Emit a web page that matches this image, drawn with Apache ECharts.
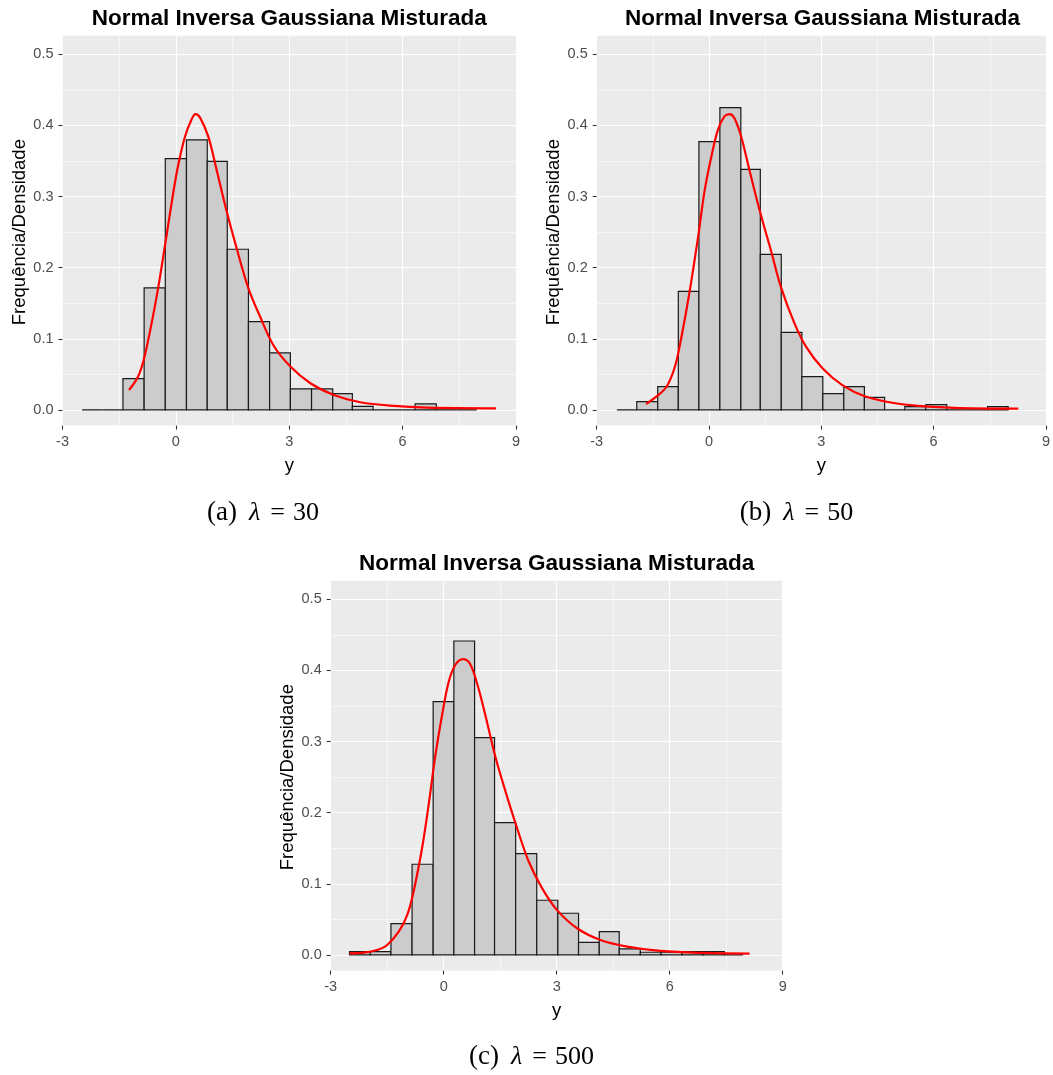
<!DOCTYPE html>
<html><head><meta charset="utf-8">
<script src="https://cdn.jsdelivr.net/npm/echarts@6/dist/echarts.min.js"></script>
<style>html,body{margin:0;padding:0;background:#fff}#c{width:1053px;height:1075px}</style>
</head><body><div id="c"></div>
<script>
// ---------- data ----------
const plotTitle = 'Normal Inversa Gaussiana Misturada';
const yAxisTitle = 'Frequência/Densidade';
const xAxisTitle = 'y';
const captionTags = ['(a)', '(b)', '(c)'];
const lambdaValues = ['30', '50', '500'];
const xTicks = [-3, 0, 3, 6, 9];
const yTicks = [0.0, 0.1, 0.2, 0.3, 0.4, 0.5];

// histogram bin edges and heights (density)
const edgesA = [-2.48, -1.94, -1.40, -0.84, -0.28, 0.28, 0.83, 1.36, 1.92, 2.48, 3.03, 3.59, 4.15, 4.67, 5.22, 5.77, 6.33, 6.89, 7.43, 7.96];
const histA  = [0, 0, 0.044, 0.1715, 0.3533, 0.3796, 0.3496, 0.2259, 0.1242, 0.0801, 0.0295, 0.0295, 0.023, 0.005, 0, 0, 0.0085, 0, 0];

const edgesB = [-2.46, -1.93, -1.37, -0.82, -0.27, 0.29, 0.85, 1.37, 1.93, 2.48, 3.04, 3.60, 4.15, 4.69, 5.23, 5.79, 6.35, 6.90, 7.44, 7.99];
const histB  = [0, 0.0117, 0.0328, 0.1668, 0.3772, 0.425, 0.3383, 0.2188, 0.1092, 0.0469, 0.023, 0.0328, 0.0178, 0, 0.0047, 0.0075, 0, 0, 0.0047];

const edgesC = [-2.50, -1.95, -1.40, -0.84, -0.28, 0.27, 0.82, 1.35, 1.91, 2.47, 3.03, 3.58, 4.13, 4.66, 5.22, 5.77, 6.33, 6.89, 7.45, 7.95];
const histC  = [0.0047, 0.0047, 0.044, 0.1275, 0.356, 0.4414, 0.3055, 0.186, 0.1425, 0.0769, 0.0586, 0.0178, 0.0328, 0.0086, 0.0038, 0.0038, 0.0047, 0.0047, 0];

// fitted density curves
const curveXA = [-1.24, -1.0, -0.82, -0.51, -0.28, -0.115, 0.035, 0.24, 0.42, 0.52, 0.64, 0.86, 1.08, 1.345, 1.61, 1.92, 2.23, 2.58, 3.03, 3.56, 4.18, 4.88, 5.77, 6.65, 8.47];
const curveYA = [0.028, 0.047, 0.077, 0.159, 0.234, 0.29, 0.337, 0.384, 0.409, 0.416, 0.411, 0.384, 0.337, 0.279, 0.227, 0.171, 0.131, 0.091, 0.061, 0.0375, 0.021, 0.0108, 0.0056, 0.0033, 0.0023];

const curveXB = [-1.68, -1.40, -1.13, -0.91, -0.735, -0.51, -0.29, -0.115, 0.062, 0.24, 0.416, 0.55, 0.68, 0.86, 1.08, 1.35, 1.66, 1.92, 2.28, 2.59, 3.03, 3.56, 4.18, 4.98, 5.86, 7.01, 8.26];
const curveYB = [0.0084, 0.019, 0.033, 0.061, 0.103, 0.169, 0.244, 0.309, 0.356, 0.394, 0.413, 0.416, 0.410, 0.384, 0.337, 0.281, 0.223, 0.173, 0.122, 0.089, 0.0586, 0.035, 0.019, 0.0094, 0.0047, 0.0023, 0.0019];

const curveXC = [-2.50, -2.12, -1.77, -1.50, -1.19, -0.97, -0.80, -0.575, -0.40, -0.22, -0.044, 0.133, 0.31, 0.513, 0.69, 0.885, 1.106, 1.37, 1.64, 1.95, 2.26, 2.61, 3.01, 3.54, 4.16, 4.87, 5.75, 6.90, 8.12];
const curveYC = [0.0023, 0.0033, 0.007, 0.014, 0.033, 0.056, 0.089, 0.15, 0.211, 0.281, 0.337, 0.384, 0.408, 0.416, 0.41, 0.382, 0.337, 0.279, 0.23, 0.178, 0.131, 0.094, 0.063, 0.0375, 0.021, 0.0117, 0.0056, 0.0028, 0.0019];

// ---------- layout ----------
const FONT = '"Liberation Sans", Arial, sans-serif';
const SERIF = '"Liberation Serif", "DejaVu Serif", serif';
const yLo = -0.022, yHi = 0.526;
const panels = [
  {left: 62.5, width: 453.5, top: 35.8, height: 389.8, titleTop: 7, capX: 263, capY: 513, edges: edgesA, hist: histA, cx: curveXA, cy: curveYA},
  {left: 596.7, width: 451.6, top: 35.8, height: 389.8, titleTop: 7, capX: 796.5, capY: 513, edges: edgesB, hist: histB, cx: curveXB, cy: curveYB},
  {left: 330.7, width: 452, top: 580.8, height: 389.8, titleTop: 552, capX: 531.5, capY: 1057, edges: edgesC, hist: histC, cx: curveXC, cy: curveYC}
];

const grid = [], xAxis = [], yAxis = [], series = [], title = [];
const xMin = xTicks[0], xMax = xTicks[xTicks.length - 1], xInt = xTicks[1] - xTicks[0];
const yMin = yTicks[0], yMax = yTicks[yTicks.length - 1], yInt = +(yTicks[1] - yTicks[0]).toFixed(3);

panels.forEach((p, i) => {
  const k = p.height / (yHi - yLo);
  // main grid: background, vertical grid lines, x axis, data
  grid.push({left: p.left, top: p.top, width: p.width, height: p.height, show: true,
    backgroundColor: '#EBEBEB', borderWidth: 0, containLabel: false});
  // aux grid: exactly the [0, 0.5] band for horizontal grid lines + y labels
  grid.push({left: p.left, top: p.top + (yHi - yMax) * k, width: p.width, height: (yMax - yMin) * k,
    show: false, containLabel: false});
  xAxis.push({gridIndex: 2 * i, type: 'value', min: xMin, max: xMax, interval: xInt, position: 'bottom',
    axisLine: {show: false, onZero: false},
    axisTick: {show: true, length: 4, lineStyle: {color: '#333333', width: 1.1}},
    axisLabel: {color: '#4D4D4D', fontSize: 14.5, fontFamily: FONT, margin: 9},
    splitLine: {show: true, lineStyle: {color: '#FFFFFF', width: 1.1}},
    minorTick: {show: false, splitNumber: 2},
    minorSplitLine: {show: true, lineStyle: {color: '#FFFFFF', width: 0.55}},
    name: xAxisTitle, nameLocation: 'middle', nameGap: 31,
    nameTextStyle: {color: '#000', fontSize: 18.5, fontFamily: FONT}});
  xAxis.push({gridIndex: 2 * i + 1, type: 'value', min: xMin, max: xMax, show: false,
    axisLine: {show: false, onZero: false}, axisTick: {show: false}, axisLabel: {show: false},
    splitLine: {show: false}});
  yAxis.push({gridIndex: 2 * i, type: 'value', min: yLo, max: yHi, show: false,
    axisLine: {show: false, onZero: false}, axisTick: {show: false}, axisLabel: {show: false},
    splitLine: {show: false}});
  yAxis.push({gridIndex: 2 * i + 1, type: 'value', min: yMin, max: yMax, interval: yInt, position: 'left',
    axisLine: {show: false, onZero: false},
    axisTick: {show: true, length: 4, lineStyle: {color: '#333333', width: 1.1}},
    axisLabel: {color: '#4D4D4D', fontSize: 14.5, fontFamily: FONT, margin: 9,
      formatter: v => v.toFixed(1)},
    splitLine: {show: true, lineStyle: {color: '#FFFFFF', width: 1.1}},
    minorTick: {show: false, splitNumber: 2},
    minorSplitLine: {show: true, lineStyle: {color: '#FFFFFF', width: 0.55}},
    name: yAxisTitle, nameLocation: 'middle', nameGap: 33,
    nameTextStyle: {color: '#000', fontSize: 18.5, fontFamily: FONT}});

  const histData = p.hist.map((h, j) => [p.edges[j], p.edges[j + 1], h]);
  series.push({type: 'custom', xAxisIndex: 2 * i, yAxisIndex: 2 * i, z: 2,
    dimensions: ['x0', 'x1', 'h'], encode: {x: [0, 1], y: 2},
    data: histData, clip: false,
    renderItem: (params, api) => {
      const a = api.coord([api.value(0), api.value(2)]);
      const b = api.coord([api.value(1), 0]);
      return {type: 'rect', shape: {x: a[0], y: a[1], width: b[0] - a[0], height: b[1] - a[1]},
        style: {fill: '#CCCCCC', stroke: '#1A1A1A', lineWidth: 1.2}};
    }});
  series.push({type: 'line', xAxisIndex: 2 * i, yAxisIndex: 2 * i, z: 3,
    data: p.cx.map((x, j) => [x, p.cy[j]]), showSymbol: false, symbol: 'none',
    smooth: 0.35, lineStyle: {color: '#FF0000', width: 2.2}, clip: false});

  title.push({text: plotTitle, left: p.left + p.width / 2, textAlign: 'center', top: p.titleTop, padding: 0,
    textStyle: {fontFamily: FONT, fontSize: 22.5, fontWeight: 'bold', color: '#000'}});
  title.push({text: '{t|' + captionTags[i] + '}{l|λ}{e|=}{n|' + lambdaValues[i] + '}', left: p.capX, textAlign: 'center',
    top: p.capY - 14, padding: 0,
    textStyle: {fontFamily: SERIF, fontSize: 26, fontWeight: 'normal', color: '#000', lineHeight: 28,
      rich: {
        t: {fontFamily: SERIF, fontSize: 27, color: '#000', lineHeight: 28, padding: [0, 12, 0, 0]},
        l: {fontFamily: SERIF, fontStyle: 'italic', fontSize: 26, color: '#000', lineHeight: 28, padding: [0, 10, 0, 0]},
        e: {fontFamily: SERIF, fontSize: 26, color: '#000', lineHeight: 28, padding: [0, 8, 0, 0]},
        n: {fontFamily: SERIF, fontSize: 26, color: '#000', lineHeight: 28}
      }}});
});

const chart = echarts.init(document.getElementById('c'), null, {renderer: 'canvas'});
chart.setOption({backgroundColor: '#FFFFFF', animation: false, title, grid, xAxis, yAxis, series});
</script></body></html>
